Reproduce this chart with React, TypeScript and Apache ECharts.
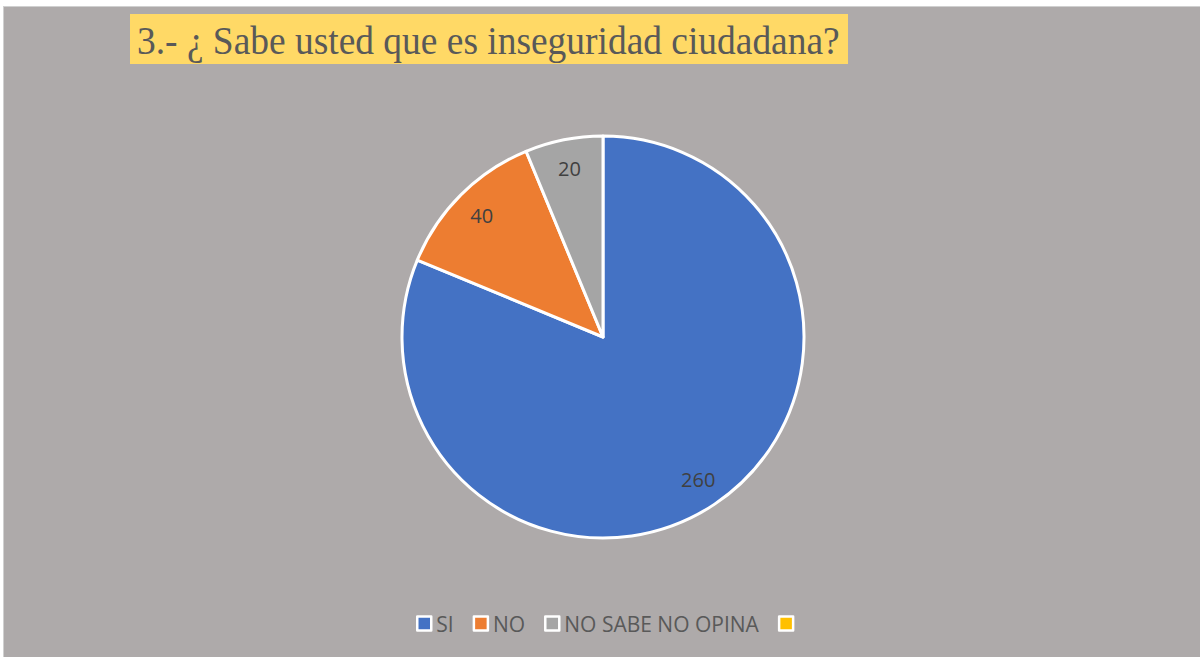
import React, { useEffect, useRef } from "react";
import * as echarts from "echarts";

const titleText = "3.- ¿ Sabe usted que es inseguridad ciudadana?";
const categories = ["SI", "NO", "NO SABE NO OPINA", " "];
const values = [260, 40, 20, 0];
const colors = ["#4472C4", "#ED7D31", "#A5A5A5", "#FFC000"];

export default function App() {
  const ref = useRef<HTMLDivElement>(null);
  useEffect(() => {
    document.body.style.margin = "0";
    const chart = echarts.init(ref.current!, null, { renderer: "svg" });
    const data = categories.map((name, i) => ({
      name,
      value: values[i],
      itemStyle: { color: colors[i], borderWidth: values[i] === 0 ? 0 : 3 },
    }));
    chart.setOption({
      animation: false,
      backgroundColor: "transparent",
      graphic: [
        {
          type: "rect",
          left: 130,
          top: 14,
          shape: { width: 718, height: 50 },
          style: { fill: "#FFD966" },
          silent: true,
        },
        {
          type: "text",
          x: 137,
          y: 20,
          scaleX: 0.936,
          style: {
            text: titleText,
            font: '40px "Liberation Serif", "Times New Roman", serif',
            fill: "#595959",
          },
        },
      ],
      legend: {
        data: categories,
        top: 608,
        left: 411,
        itemWidth: 14,
        itemHeight: 14,
        itemGap: 19,
        icon: "rect",
        itemStyle: { borderColor: "#FFFFFF", borderWidth: 2.5 },
        textStyle: {
          color: "#595959",
          fontSize: 21,
          fontFamily: '"Open Sans", sans-serif',
        },
        selectedMode: false,
      },
      series: [
        {
          type: "pie",
          center: [603, 337],
          radius: [0, 201],
          startAngle: 90,
          clockwise: true,
          data,
          itemStyle: { borderColor: "#FFFFFF", borderWidth: 3 },
          label: { show: false },
          labelLine: { show: false },
          emphasis: { disabled: true },
        },
        {
          type: "pie",
          center: [603, 337],
          radius: [136, 201],
          startAngle: 90,
          clockwise: true,
          silent: true,
          data: categories.map((name, i) => ({
            name,
            value: values[i],
            label: { show: values[i] !== 0 },
          })),
          itemStyle: { color: "rgba(0,0,0,0)", borderWidth: 0 },
          label: {
            show: true,
            position: "inside",
            formatter: "{c}",
            color: "#404040",
            fontSize: 20,
            fontFamily: '"Open Sans", sans-serif',
          },
          labelLine: { show: false },
          emphasis: { disabled: true },
        },
      ],
    });
    return () => chart.dispose();
  }, []);
  return (
    <div
      style={{
        position: "fixed",
        left: 0,
        top: 0,
        width: 1200,
        height: 657,
        background: "#FFFFFF",
      }}
    >
      <div
        style={{
          position: "absolute",
          left: 3,
          top: 6,
          width: 1197,
          height: 651,
          background: "#AEAAAA",
          borderTop: "1px solid #D0D0D0",
          borderLeft: "1px solid #D0D0D0",
          boxSizing: "border-box",
        }}
      />
      <div
        ref={ref}
        style={{ position: "absolute", left: 0, top: 0, width: 1200, height: 657 }}
      />
    </div>
  );
}
